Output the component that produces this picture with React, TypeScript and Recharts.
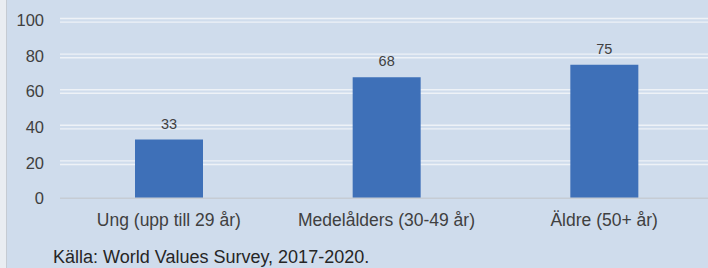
import React from 'react';
import { BarChart, Bar, XAxis, YAxis, CartesianGrid, LabelList } from 'recharts';

const categories = ['Ung (upp till 29 år)', 'Medelålders (30-49 år)', 'Äldre (50+ år)'];
const values = [33, 68, 75];
const yTicks = [0, 20, 40, 60, 80, 100];
const sourceText = 'Källa: World Values Survey, 2017-2020.';

const data = categories.map((name, i) => ({ name, value: values[i] }));

const CHART_H = 268;
const M_TOP = 20.3;
const M_BOTTOM = 40;
const X_AXIS_H = 29.7;
const PLOT_BOTTOM = CHART_H - M_BOTTOM - X_AXIS_H;

const FONT = '"Liberation Sans", Arial, sans-serif';
const BG = '#CFDCEC';

const gridLine = (props: any) => {
  const { x1, x2, y1, key } = props;
  if (Math.abs(y1 - PLOT_BOTTOM) < 1) return <g key={key} />;
  return (
    <g key={key}>
      <line x1={x1} x2={x2} y1={y1 - 1.8} y2={y1 - 1.8} stroke="#EEF2F7" strokeWidth={1.4} />
      <line x1={x1} x2={x2} y1={y1 + 1.8} y2={y1 + 1.8} stroke="#EEF2F7" strokeWidth={1.4} />
    </g>
  );
};

export default function App() {
  return (
    <div
      style={{
        position: 'absolute',
        left: 0,
        top: 0,
        width: 708,
        height: 268,
        overflow: 'hidden',
        background: BG,
        fontFamily: FONT,
      }}
    >
      <div
        style={{
          position: 'absolute',
          left: 0,
          top: 0,
          width: 6,
          height: 268,
          background: '#E9EDF2',
          borderRight: '1px solid #C5CBD3',
        }}
      />
      <div style={{ position: 'absolute', left: 0, top: 0 }}>
        <BarChart
          width={713}
          height={CHART_H}
          data={data}
          margin={{ top: M_TOP, right: 0, bottom: M_BOTTOM, left: 0 }}
          barCategoryGap={0}
        >
          <CartesianGrid vertical={false} horizontal={gridLine} />
          <XAxis
            dataKey="name"
            height={X_AXIS_H}
            tickLine={false}
            axisLine={{ stroke: '#C6CCD4', strokeWidth: 1.5 }}
            tickSize={0}
            tickMargin={15}
            interval={0}
            tick={{ fill: '#404040', fontSize: 17.5, fontFamily: FONT }}
          />
          <YAxis
            width={60}
            domain={[0, 100]}
            ticks={yTicks}
            axisLine={false}
            tickLine={false}
            tickSize={0}
            tickMargin={16}
            tick={{ fill: '#404040', fontSize: 16.5, fontFamily: FONT }}
          />
          <Bar dataKey="value" fill="#3E70B8" barSize={68} isAnimationActive={false}>
            <LabelList
              dataKey="value"
              position="top"
              offset={11}
              style={{ fill: '#404040', fontSize: 14.5, fontFamily: FONT }}
            />
          </Bar>
        </BarChart>
      </div>
      <svg style={{ position: 'absolute', left: 0, top: 0 }} width={708} height={268}>
        <text x={53} y={262.5} fill="#262626" fontSize={18} fontFamily={FONT}>
          {sourceText}
        </text>
      </svg>
    </div>
  );
}
